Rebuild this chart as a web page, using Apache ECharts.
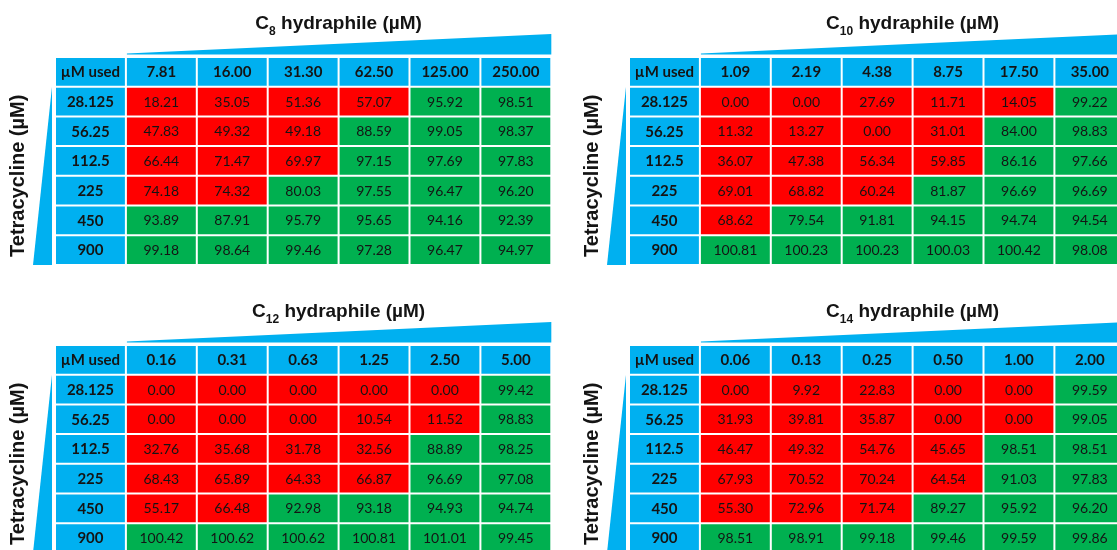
<!DOCTYPE html>
<html>
<head>
<meta charset="utf-8">
<script src="https://cdn.jsdelivr.net/npm/echarts@6/dist/echarts.min.js"></script>
<style>
  html, body { margin: 0; padding: 0; background: #ffffff; }
  #chart { width: 1117px; height: 550px; }
</style>
</head>
<body>
<div id="chart"></div>
<script>
// ---- Data -------------------------------------------------------------
const cornerLabel = 'µM used';
const tetracyclineRows = ['28.125', '56.25', '112.5', '225', '450', '900'];

const c8Conc = ['7.81', '16.00', '31.30', '62.50', '125.00', '250.00'];
const c8Values = [
  [18.21, 35.05, 51.36, 57.07, 95.92, 98.51],
  [47.83, 49.32, 49.18, 88.59, 99.05, 98.37],
  [66.44, 71.47, 69.97, 97.15, 97.69, 97.83],
  [74.18, 74.32, 80.03, 97.55, 96.47, 96.20],
  [93.89, 87.91, 95.79, 95.65, 94.16, 92.39],
  [99.18, 98.64, 99.46, 97.28, 96.47, 94.97]
];

const c10Conc = ['1.09', '2.19', '4.38', '8.75', '17.50', '35.00'];
const c10Values = [
  [0.00, 0.00, 27.69, 11.71, 14.05, 99.22],
  [11.32, 13.27, 0.00, 31.01, 84.00, 98.83],
  [36.07, 47.38, 56.34, 59.85, 86.16, 97.66],
  [69.01, 68.82, 60.24, 81.87, 96.69, 96.69],
  [68.62, 79.54, 91.81, 94.15, 94.74, 94.54],
  [100.81, 100.23, 100.23, 100.03, 100.42, 98.08]
];

const c12Conc = ['0.16', '0.31', '0.63', '1.25', '2.50', '5.00'];
const c12Values = [
  [0.00, 0.00, 0.00, 0.00, 0.00, 99.42],
  [0.00, 0.00, 0.00, 10.54, 11.52, 98.83],
  [32.76, 35.68, 31.78, 32.56, 88.89, 98.25],
  [68.43, 65.89, 64.33, 66.87, 96.69, 97.08],
  [55.17, 66.48, 92.98, 93.18, 94.93, 94.74],
  [100.42, 100.62, 100.62, 100.81, 101.01, 99.45]
];

const c14Conc = ['0.06', '0.13', '0.25', '0.50', '1.00', '2.00'];
const c14Values = [
  [0.00, 9.92, 22.83, 0.00, 0.00, 99.59],
  [31.93, 39.81, 35.87, 0.00, 0.00, 99.05],
  [46.47, 49.32, 54.76, 45.65, 98.51, 98.51],
  [67.93, 70.52, 70.24, 64.54, 91.03, 97.83],
  [55.30, 72.96, 71.74, 89.27, 95.92, 96.20],
  [98.51, 98.91, 99.18, 99.46, 99.59, 99.86]
];

// ---- Style / layout ---------------------------------------------------
const BLUE = '#00B0F0';
const RED = '#FF0000';
const GREEN = '#00B050';
const TEXT = '#141414';
const GREEN_FROM = 75;          // cells at or above this value are green
const CELL_W = 70.9;
const CELL_H = 29.7;
const GAP = 2;
const HEAD_FONT = 'bold 15px Lato';
const VALUE_FONT = '14px Lato';
const TITLE_FAMILY = '"Liberation Sans", Arial, sans-serif';

const panels = [
  { chain: '8',  conc: c8Conc,  values: c8Values,  left: 55,  top: 57 },
  { chain: '10', conc: c10Conc, values: c10Values, left: 629, top: 57 },
  { chain: '12', conc: c12Conc, values: c12Values, left: 55,  top: 345 },
  { chain: '14', conc: c14Conc, values: c14Values, left: 629, top: 345 }
];

// kind: 0 corner, 1 column header, 2 row header, 3 value, 4 wedges
function buildData(panel) {
  const data = [[0, 0, 0, 4], [0, 0, 0, 0]];
  panel.conc.forEach((_, i) => data.push([i + 1, 0, 0, 1]));
  tetracyclineRows.forEach((_, j) => data.push([0, j + 1, 0, 2]));
  panel.values.forEach((row, j) => row.forEach((v, i) => data.push([i + 1, j + 1, v, 3])));
  return data;
}

function makeRenderer(panel) {
  return function (params, api) {
    const col = api.value(0), row = api.value(1), kind = api.value(3);
    const c = api.coord([col, row]);
    const s = api.size([1, 1]);
    if (kind === 4) {
      // increasing-concentration wedges along the top and the left side
      const gl = c[0] - s[0] / 2, gt = c[1] - s[1] / 2;
      const gr = gl + 7 * s[0], gb = gt + 7 * s[1];
      return {
        type: 'group',
        children: [
          { type: 'polygon', shape: { points: [[gl + s[0] + 1, gt - 2.5], [gr, gt - 2.5], [gr, gt - 23], [gl + s[0] + 1, gt - 3.6]] }, style: { fill: BLUE } },
          { type: 'polygon', shape: { points: [[gl - 3, gt + s[1]], [gl - 3, gb], [gl - 22, gb]] }, style: { fill: BLUE } }
        ]
      };
    }
    let fill, text, font;
    if (kind === 0) { fill = BLUE; text = cornerLabel; font = HEAD_FONT; }
    else if (kind === 1) { fill = BLUE; text = panel.conc[col - 1]; font = HEAD_FONT; }
    else if (kind === 2) { fill = BLUE; text = tetracyclineRows[row - 1]; font = HEAD_FONT; }
    else {
      const v = api.value(2);
      fill = v >= GREEN_FROM ? GREEN : RED;
      text = v.toFixed(2);
      font = VALUE_FONT;
    }
    const w = s[0] - GAP, h = s[1] - GAP;
    return {
      type: 'group',
      children: [
        { type: 'rect', shape: { x: c[0] - w / 2, y: c[1] - h / 2, width: w, height: h }, style: { fill: fill } },
        { type: 'text', style: { x: c[0], y: c[1] + 0.5, text: text, font: font, fill: TEXT, align: 'center', verticalAlign: 'middle' } }
      ]
    };
  };
}

const grids = [], xAxes = [], yAxes = [], series = [], graphics = [];
panels.forEach((p, k) => {
  grids.push({ left: p.left, top: p.top, width: 7 * CELL_W, height: 7 * CELL_H, outerBoundsMode: 'none' });
  xAxes.push({ type: 'category', gridIndex: k, data: [cornerLabel].concat(p.conc), show: false });
  yAxes.push({ type: 'category', gridIndex: k, data: [cornerLabel].concat(tetracyclineRows), inverse: true, show: false });
  series.push({
    type: 'custom',
    coordinateSystem: 'cartesian2d',
    xAxisIndex: k,
    yAxisIndex: k,
    data: buildData(p),
    renderItem: makeRenderer(p),
    silent: true,
    animation: false
  });
  // panel title with subscripted chain length
  graphics.push({
    type: 'text',
    x: p.left + CELL_W + 3 * CELL_W,
    y: p.top - 33,
    style: {
      text: '{m|C}{s|' + p.chain + '}{m| hydraphile (µM)}',
      align: 'center',
      verticalAlign: 'middle',
      rich: {
        m: { fontSize: 19, fontWeight: 'bold', fontFamily: TITLE_FAMILY, fill: TEXT, lineHeight: 28 },
        s: { fontSize: 12, fontWeight: 'bold', fontFamily: TITLE_FAMILY, fill: TEXT, lineHeight: 14, verticalAlign: 'bottom' }
      }
    }
  });
  // rotated row-axis caption
  graphics.push({
    type: 'text',
    x: p.left - 37,
    y: p.top + CELL_H + 3 * CELL_H,
    rotation: Math.PI / 2,
    style: {
      text: 'Tetracycline (µM)',
      align: 'center',
      verticalAlign: 'middle',
      font: 'bold 20px ' + TITLE_FAMILY,
      fill: TEXT
    }
  });
});

const chart = echarts.init(document.getElementById('chart'));
chart.setOption({
  backgroundColor: '#ffffff',
  animation: false,
  grid: grids,
  xAxis: xAxes,
  yAxis: yAxes,
  series: series,
  graphic: graphics
});
</script>
</body>
</html>
